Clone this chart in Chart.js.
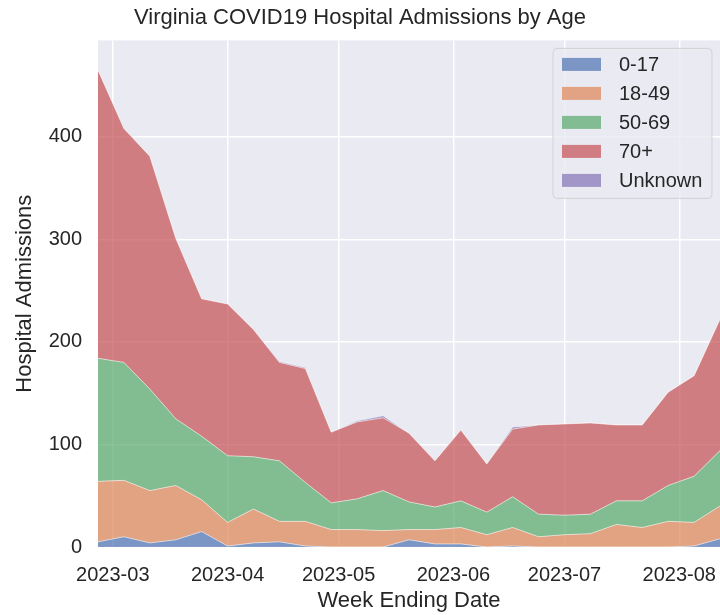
<!DOCTYPE html>
<html>
<head>
<meta charset="utf-8">
<script src="https://cdn.jsdelivr.net/npm/chart.js@4.4.0/dist/chart.umd.min.js"></script>
<style>
  html, body { margin: 0; padding: 0; background: #fff; }
  #wrap { width: 720px; height: 615px; }
</style>
</head>
<body>
<div id="wrap"><canvas id="admChart" width="720" height="615"></canvas></div>
<script>
// week ending dates (Saturdays)
const weekEnding = ['2023-02-25','2023-03-04','2023-03-11','2023-03-18','2023-03-25',
  '2023-04-01','2023-04-08','2023-04-15','2023-04-22','2023-04-29',
  '2023-05-06','2023-05-13','2023-05-20','2023-05-27','2023-06-03',
  '2023-06-10','2023-06-17','2023-06-24','2023-07-01','2023-07-08',
  '2023-07-15','2023-07-22','2023-07-29','2023-08-05','2023-08-12'];

const age0to17  = [5,10,4,7,15,1,4,5,1,0,0,0,7,3,3,0,1,0,0,0,0,0,0,1,8];
const age18to49 = [59,55,51,53,31,23,33,20,24,17,17,16,10,14,16,12,18,10,12,13,22,19,25,23,32];
const age50to69 = [120,115,99,65,62,65,51,59,38,26,30,39,27,22,26,22,30,22,19,19,23,26,35,45,54];
const age70plus = [281,228,227,176,134,148,124,96,111,69,75,71,67,45,69,47,66,87,89,89,74,74,91,98,128];
const ageUnknown = [0,0,0,0,0,0,0,1,1,0,1,2,0,0,0,0,2,0,0,0,0,0,0,0,0];

const seriesNames = ['0-17', '18-49', '50-69', '70+', 'Unknown'];
const seriesValues = [age0to17, age18to49, age50to69, age70plus, ageUnknown];
const seriesColors = ['rgba(76,114,176,0.7)', 'rgba(221,132,82,0.7)', 'rgba(85,168,104,0.7)',
                      'rgba(196,78,82,0.7)', 'rgba(129,114,179,0.7)'];

const monthTickLabels = ['2023-03','2023-04','2023-05','2023-06','2023-07','2023-08'];
const yTickValues = [0, 100, 200, 300, 400];

const toMs = s => Date.parse(s + 'T00:00:00Z');
const xs = weekEnding.map(toMs);
const monthTickValues = monthTickLabels.map(m => toMs(m + '-01'));

const textColor = '#262626';
const fontFamily = '"Liberation Sans", Arial, sans-serif';

const datasets = seriesNames.map((name, i) => ({
  label: name,
  data: seriesValues[i].map((v, k) => ({ x: xs[k], y: v })),
  backgroundColor: seriesColors[i],
  borderColor: 'rgba(255,255,255,0.55)',
  borderWidth: 1,
  pointRadius: 0,
  tension: 0,
  fill: i === 0 ? 'origin' : '-1',
}));

// seaborn style grey panel
const panelBg = {
  id: 'panelBg',
  beforeDraw(chart) {
    const { ctx, chartArea: a } = chart;
    ctx.save();
    ctx.fillStyle = '#EAEAF2';
    ctx.fillRect(a.left, a.top, a.right - a.left, a.bottom - a.top);
    ctx.restore();
  }
};

// legend box drawn inside the plot, upper right
const innerLegend = {
  id: 'innerLegend',
  afterDatasetsDraw(chart) {
    const { ctx, chartArea: a } = chart;
    const w = 159, h = 150;
    const x0 = a.right - 8 - w, y0 = a.top + 8;
    ctx.save();
    ctx.beginPath();
    ctx.roundRect(x0, y0, w, h, 4);
    ctx.fillStyle = 'rgba(234,234,242,0.8)';
    ctx.fill();
    ctx.strokeStyle = 'rgba(204,204,204,0.8)';
    ctx.lineWidth = 1;
    ctx.stroke();
    ctx.font = '20px ' + fontFamily;
    ctx.textBaseline = 'middle';
    chart.data.datasets.forEach((ds, i) => {
      const cy = y0 + 16 + i * 29;
      ctx.fillStyle = ds.backgroundColor;
      ctx.fillRect(x0 + 9, cy - 6.5, 39, 13);
      ctx.fillStyle = textColor;
      ctx.fillText(ds.label, x0 + 66, cy + 1);
    });
    ctx.restore();
  }
};

new Chart(document.getElementById('admChart'), {
  type: 'line',
  data: { datasets },
  plugins: [panelBg, innerLegend],
  options: {
    responsive: false,
    animation: false,
    layout: { padding: { left: 0, right: 0, top: 0, bottom: 0 } },
    plugins: {
      legend: { display: false },
      tooltip: { enabled: false },
      title: {
        display: true,
        text: 'Virginia COVID19 Hospital Admissions by Age',
        color: textColor,
        font: { family: fontFamily, size: 22, weight: 'normal' },
        padding: { top: 5, bottom: 9 },
      },
    },
    scales: {
      x: {
        type: 'linear',
        min: xs[0],
        max: xs[xs.length - 1],
        afterBuildTicks: s => { s.ticks = monthTickValues.map(v => ({ value: v })); },
        afterFit: s => { s.height = 68; s.paddingRight = 0; s.paddingLeft = 0; },
        ticks: {
          color: textColor,
          font: { family: fontFamily, size: 20 },
          padding: 16,
          maxRotation: 0,
          autoSkip: false,
          callback: (v, i) => monthTickLabels[i],
        },
        grid: { color: '#ffffff', lineWidth: 1.5, drawTicks: false },
        border: { display: false },
        title: {
          display: true,
          text: 'Week Ending Date',
          color: textColor,
          font: { family: fontFamily, size: 22 },
          padding: { top: 0, bottom: 1 },
        },
      },
      y: {
        stacked: true,
        min: 0,
        max: 494,
        afterBuildTicks: s => { s.ticks = yTickValues.map(v => ({ value: v })); },
        afterFit: s => { s.width = 98; },
        ticks: {
          color: textColor,
          font: { family: fontFamily, size: 20 },
          padding: 16,
        },
        grid: { color: '#ffffff', lineWidth: 1.5, drawTicks: false },
        border: { display: false },
        title: {
          display: true,
          text: 'Hospital Admissions',
          color: textColor,
          font: { family: fontFamily, size: 22 },
          padding: { top: 12, bottom: 0 },
        },
      },
    },
  },
});
</script>
</body>
</html>
